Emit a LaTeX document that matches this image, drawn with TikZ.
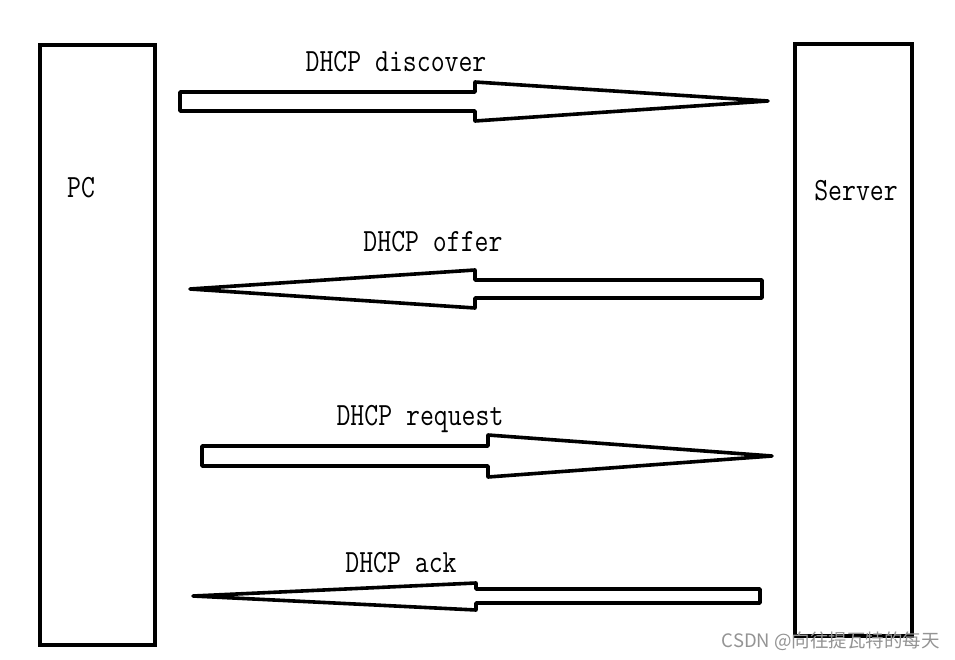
\documentclass[tikz,border=0pt]{standalone}
\usepackage{fontspec}
\newfontfamily\cjk{Noto Sans CJK SC}
\begin{document}
\begin{tikzpicture}[x=1pt,y=-1pt,
  hostbox/.style={draw=black, line width=4.5pt, minimum width=#1, inner sep=0pt},
  fatarrow/.style={draw=black, line width=3.6pt, line join=round, fill=white},
  lbl/.style={font=\ttfamily\fontsize{27}{27}\selectfont, inner sep=0pt},
  wmark/.style={text=black!42, font=\cjk\fontsize{18.5}{18.5}\selectfont, inner sep=0pt, anchor=east}]
\useasboundingbox[fill=white] (0,0) rectangle (955,660);
% host boxes
\node[hostbox=115pt, minimum height=600pt] (pc) at (97.5,345) {};
\node[hostbox=117pt, minimum height=592pt] (srv) at (853.5,340) {};
\node[lbl] (pclbl) at (81,188) {\scalebox{1}[1.2]{PC}};
\node[lbl] (srvlbl) at (856,191) {\scalebox{1}[1.2]{Server}};
% arrows
\draw[fatarrow] (180,92) -- (475,92) -- (475,82) -- (768,101) -- (475,121) -- (475,111) -- (180,111) -- cycle;
\draw[fatarrow] (762,280) -- (475,280) -- (475,270) -- (190,289) -- (475,308) -- (475,298) -- (762,298) -- cycle;
\draw[fatarrow] (202,446) -- (488,446) -- (488,435) -- (772,456) -- (488,477) -- (488,466) -- (202,466) -- cycle;
\draw[fatarrow] (760,589) -- (476,589) -- (476,583) -- (193,596) -- (476,610) -- (476,603) -- (760,603) -- cycle;
% labels
\node[lbl] (l1) at (396,62) {\scalebox{1}[1.2]{DHCP discover}};
\node[lbl] (l2) at (433,242) {\scalebox{1}[1.2]{DHCP offer}};
\node[lbl] (l3) at (420,419) {\scalebox{1}[1.2]{DHCP request}};
\node[lbl] (l4) at (401,563) {\scalebox{1}[1.2]{DHCP ack}};
% watermark
\node[wmark] (wm) at (940,641) {CSDN @向往提瓦特的每天};
\end{tikzpicture}
\end{document}
